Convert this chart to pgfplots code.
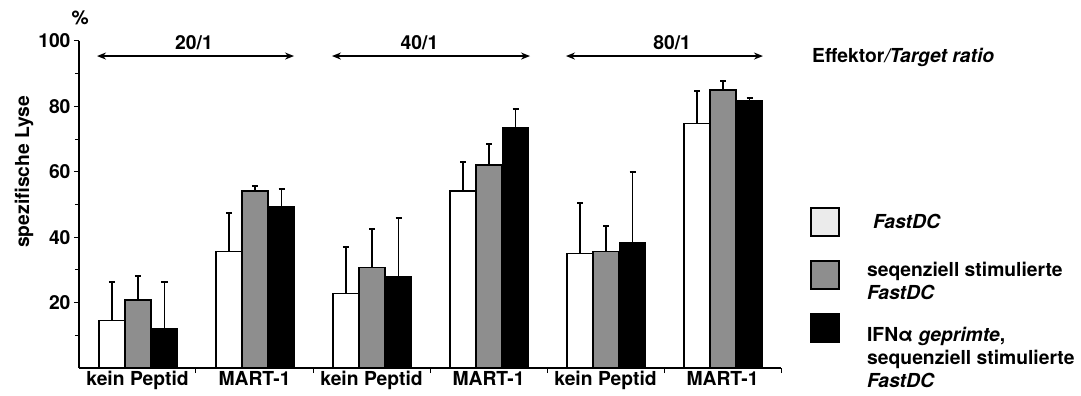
\documentclass[border=0pt]{standalone}
\usepackage{pgfplots}
\pgfplotsset{compat=1.18}
\usepackage{fontspec}
\setmainfont{TeX Gyre Heros}
\usetikzlibrary{arrows.meta}
\definecolor{bargray}{HTML}{8E8E8E}
\definecolor{leglight}{HTML}{EBEBEB}
\newcommand{\chartfont}{\bfseries\fontsize{19.3bp}{23bp}\selectfont}
\begin{document}
\begin{tikzpicture}[font=\chartfont]
\path (-79bp,-28bp) rectangle (1002bp,368bp);
\begin{axis}[
  at={(0,0)}, anchor=south west,
  scale only axis, width=702bp, height=327bp,
  xmin=-0.5, xmax=5.5, ymin=0, ymax=100,
  clip=false,
  axis lines=left,
  axis line style={-, line width=1.2bp, black},
  ybar=0pt, bar width=26bp,
  xtick={0.5,1.5,...,5.5}, xticklabels={},
  extra x ticks={0,1,2,3,4,5},
  extra x tick labels={kein Peptid, MART-1, kein Peptid, MART-1, kein Peptid, MART-1},
  extra x tick style={major tick length=0pt},
  ytick={20,40,60,80,100}, minor ytick={10,30,50,70,90},
  tick align=outside, major tick length=5bp, minor tick length=4bp,
  tick style={line width=1bp, black},
  /pgf/number format/assume math mode=true,
  every tick label/.append style={font=\chartfont},
  ylabel={spezifische Lyse},
  every axis y label/.style={at={(axis description cs:-0.0783,0.6)}, rotate=90, anchor=center, font=\chartfont},
  legend cell align=left,
  legend style={at={(axis cs:5.748,49.2)}, anchor=north west, draw=none, fill=none,
    inner sep=0pt, outer sep=0pt, row sep=23bp, font=\chartfont,
    nodes={inner sep=0pt}},
]
\addplot+[forget plot, bar shift=-25.5bp, fill=white, draw=black, line width=1.4bp,
  error bars/.cd, y dir=plus, y explicit,
  error bar style={line width=1.3bp, black},
  error mark options={rotate=90, black, mark size=3bp, line width=2bp}]
  coordinates {(0,14.5) +- (0,11.7) (1,35.6) +- (0,11.9) (2,22.8) +- (0,14.2)
               (3,54.1) +- (0,8.8) (4,35.1) +- (0,15.3) (5,74.8) +- (0,9.9)};
\addplot+[forget plot, bar shift=0.5bp, fill=bargray, draw=black, line width=1.4bp,
  error bars/.cd, y dir=plus, y explicit,
  error bar style={line width=1.3bp, black},
  error mark options={rotate=90, black, mark size=3bp, line width=2bp}]
  coordinates {(0,20.8) +- (0,7.3) (1,54.1) +- (0,1.6) (2,30.7) +- (0,11.7)
               (3,62.1) +- (0,6.3) (4,35.6) +- (0,7.8) (5,85.0) +- (0,2.9)};
\addplot+[forget plot, bar shift=27bp, fill=black, draw=black, line width=1.4bp,
  error bars/.cd, y dir=plus, y explicit,
  error bar style={line width=1.3bp, black},
  error mark options={rotate=90, black, mark size=3bp, line width=2bp}]
  coordinates {(0,12.1) +- (0,14.1) (1,49.3) +- (0,5.3) (2,27.9) +- (0,17.9)
               (3,73.4) +- (0,5.7) (4,38.4) +- (0,21.6) (5,81.7) +- (0,0.8)};

\addlegendimage{legend image code/.code={\draw[line width=1.8bp, fill=leglight] (0bp,-14bp) rectangle (28bp,14bp); \path (56bp,0bp);}}
\addlegendentry{\hspace{6bp}\textit{FastDC}}
\addlegendimage{legend image code/.code={\draw[line width=1.8bp, fill=bargray] (0bp,-14bp) rectangle (28bp,14bp); \path (56bp,0bp);}}
\addlegendentry{\begin{tabular}{@{}l@{}}seqenziell stimulierte\\\textit{FastDC}\end{tabular}}
\addlegendimage{legend image code/.code={\draw[line width=1.8bp, fill=black] (0bp,4bp) rectangle (28bp,32bp); \path (56bp,0bp);}}
\addlegendentry{\begin{tabular}{@{}l@{}}IFNα \textit{geprimte},\\sequenziell stimulierte\\\textit{FastDC}\end{tabular}}

\draw[{Stealth[length=9bp,width=7bp]}-{Stealth[length=9bp,width=7bp]}, line width=1.5bp] (axis cs:-0.346,95.4) -- (axis cs:1.338,95.4);
\draw[{Stealth[length=9bp,width=7bp]}-{Stealth[length=9bp,width=7bp]}, line width=1.5bp] (axis cs:1.662,95.4) -- (axis cs:3.355,95.4);
\draw[{Stealth[length=9bp,width=7bp]}-{Stealth[length=9bp,width=7bp]}, line width=1.5bp] (axis cs:3.662,95.4) -- (axis cs:5.346,95.4);
\node at (axis cs:0.483,99.4) {20/1};
\node at (axis cs:2.41,99.4) {40/1};
\node at (axis cs:4.57,99.4) {80/1};
\node[anchor=west, inner sep=0pt] at (axis cs:5.765,95.1) {Effektor\textit{/Target ratio}};
\node at (axis cs:-0.49,107) {\%};
\end{axis}
\end{tikzpicture}
\end{document}
